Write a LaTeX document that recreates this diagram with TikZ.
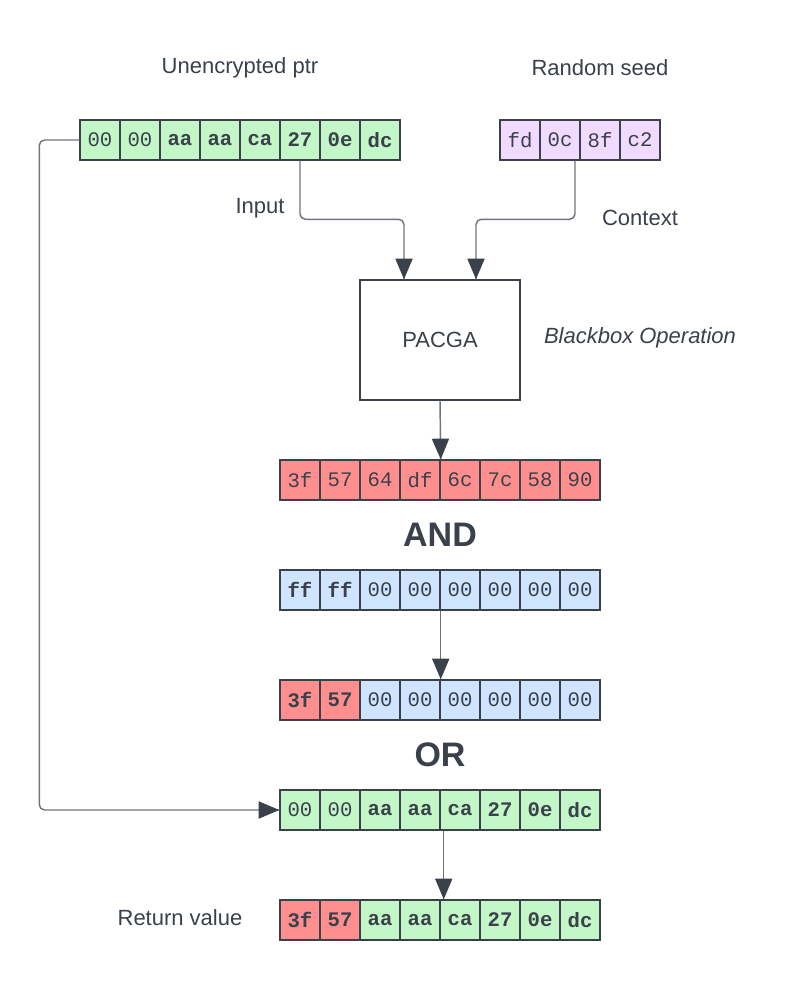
\documentclass[tikz,border=0pt]{standalone}
\usepackage{fontspec}
\setmainfont{Liberation Sans}
\setmonofont{Liberation Mono}
\usepackage{tikz}
\usetikzlibrary{arrows}
\usetikzlibrary{decorations.markings}
\usetikzlibrary{positioning}
\definecolor{ink}{RGB}{58,65,74}
\definecolor{wire}{RGB}{112,117,124}
\definecolor{grn}{RGB}{195,247,200}
\definecolor{prp}{RGB}{241,218,255}
\definecolor{red}{RGB}{255,143,143}
\definecolor{blu}{RGB}{207,228,255}
\tikzset{arr/.style = {decoration={markings,
                                   mark=at position 1 with {\arrow[ink,scale=1.7]{triangle 45}}},
                       postaction={decorate}}}
\tikzset{cell/.style = {draw=ink, line width=1.1pt, minimum width=30pt, minimum height=30pt,
                        inner sep=0, text=ink, font=\fontsize{15.5}{15.5}\ttfamily}}
\tikzset{gn/.style = {cell, fill=grn}, gb/.style = {gn, font=\fontsize{15.5}{15.5}\ttfamily\bfseries}}
\tikzset{pn/.style = {cell, fill=prp}}
\tikzset{rn/.style = {cell, fill=red}, rb/.style = {rn, font=\fontsize{15.5}{15.5}\ttfamily\bfseries}}
\tikzset{bn/.style = {cell, fill=blu}, bb/.style = {bn, font=\fontsize{15.5}{15.5}\ttfamily\bfseries}}
\tikzset{label/.style = {text=ink, font=\fontsize{16.5}{16.5}\selectfont}}
\tikzset{oper/.style = {text=ink, font=\fontsize{25.5}{25.5}\selectfont\bfseries}}
\tikzset{wireline/.style = {draw=wire, line width=1.1pt, rounded corners=4pt}}

\begin{document}
\begin{tikzpicture}[x=0.75pt, y=-0.75pt]
    \useasboundingbox (0, 0) rectangle (801, 990);

    % pointer and seed
    \foreach \v/\s [count=\i] in {00/gn, 00/gn, aa/gb, aa/gb, ca/gb, 27/gb, 0e/gb, dc/gb}
      \node [\s] (ptr\i) at (60+40*\i, 140) {\v};
    \foreach \v [count=\i] in {fd, 0c, 8f, c2}
      \node [pn] (seed\i) at (480+40*\i, 140) {\v};
    \node [label] (ptrlabel) at (240, 68) {Unencrypted ptr};
    \node [label] (seedlabel) at (600, 68) {Random seed};

    % blackbox
    \node [draw=ink, line width=1.1pt, minimum width=120pt, minimum height=90pt,
           label] (pacga) at (440, 340) {PACGA};
    \node [label, font=\fontsize{16.5}{16.5}\selectfont\itshape] (bblabel) at (640, 338) {Blackbox Operation};
    \node [label] (inlabel) at (260, 208) {Input};
    \node [label] (ctxlabel) at (640, 218) {Context};

    % masking rows
    \foreach \v [count=\i] in {3f, 57, 64, df, 6c, 7c, 58, 90}
      \node [rn] (pac\i) at (260+40*\i, 480) {\v};
    \node [oper] (andop) at (440, 535) {AND};
    \foreach \v/\s [count=\i] in {ff/bb, ff/bb, 00/bn, 00/bn, 00/bn, 00/bn, 00/bn, 00/bn}
      \node [\s] (mask\i) at (260+40*\i, 590) {\v};
    \foreach \v/\s [count=\i] in {3f/rb, 57/rb, 00/bn, 00/bn, 00/bn, 00/bn, 00/bn, 00/bn}
      \node [\s] (top\i) at (260+40*\i, 700) {\v};
    \node [oper] (orop) at (440, 755) {OR};
    \foreach \v/\s [count=\i] in {00/gn, 00/gn, aa/gb, aa/gb, ca/gb, 27/gb, 0e/gb, dc/gb}
      \node [\s] (low\i) at (260+40*\i, 810) {\v};
    \foreach \v/\s [count=\i] in {3f/rb, 57/rb, aa/gb, aa/gb, ca/gb, 27/gb, 0e/gb, dc/gb}
      \node [\s] (ret\i) at (260+40*\i, 920) {\v};
    \node [label] (retlabel) at (180, 918) {Return value};

    % connectors
    \draw [wireline, arr] (ptr6.south) |- ([xshift=-27pt, yshift=45pt]pacga.north)
                                      -- ([xshift=-27pt]pacga.north);
    \draw [wireline, arr] ([xshift=11.25pt]seed2.south) |- ([xshift=27pt, yshift=45pt]pacga.north)
                                                       -- ([xshift=27pt]pacga.north);
    \draw [wireline, arr] (pacga.south) -- (pac4.north east);
    \draw [wireline, arr] (mask4.south east) -- (top4.north east);
    \draw [wireline, arr] ([xshift=2.25pt]low4.south east) -- ([xshift=2.25pt]ret4.north east);
    \draw [wireline, arr] (ptr1.west) -| ([xshift=-180pt]low1.west) -- (low1.west);
  \end{tikzpicture}
\end{document}
